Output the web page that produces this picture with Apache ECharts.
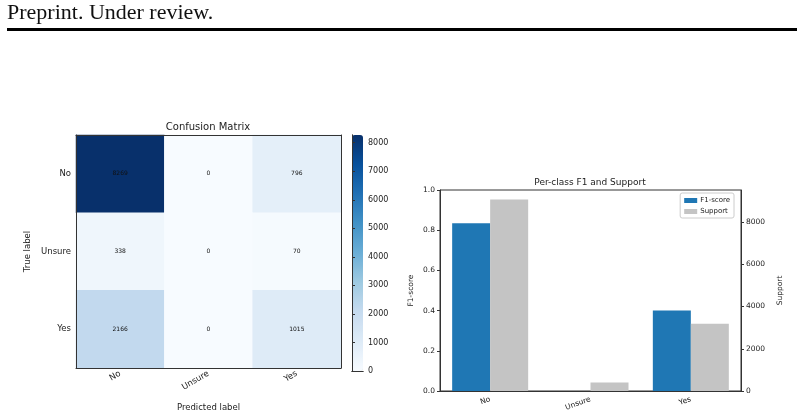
<!DOCTYPE html>
<html>
<head>
<meta charset="utf-8">
<script src="https://cdn.jsdelivr.net/npm/echarts@6/dist/echarts.min.js"></script>
<style>
  html, body { margin: 0; padding: 0; background: #fff; }
  #chart { width: 804px; height: 417px; }
</style>
</head>
<body>
<div id="chart"></div>
<script>
// class names (rows = true label, columns = predicted label)
const classes = ['No', 'Unsure', 'Yes']
const cmNo = [8269, 0, 796]
const cmUnsure = [338, 0, 70]
const cmYes = [2166, 0, 1015]
const f1Scores = [0.834, 0.0, 0.401]
const support = [9065, 408, 3181]

const cmMax = 8269
const supportMax = 9518
const blues = ['#f7fbff', '#deebf7', '#c6dbef', '#9ecae1', '#6baed6', '#4292c6', '#2171b5', '#08519c', '#08306b']
const FONT = 'DejaVu Sans'
const INK = '#222'

const cmRows = [cmNo, cmUnsure, cmYes]
const heatData = []
cmRows.forEach((row, r) => {
  row.forEach((v, c) => {
    heatData.push([c, r, v])
  })
})

const spine = { show: true, lineStyle: { color: '#333', width: 1 } }
const hidden = { show: false }
const plain = (v) => String(v)

const chart = echarts.init(document.getElementById('chart'), null, { renderer: 'canvas' })

const option = {
  animation: false,
  textStyle: { fontFamily: FONT, color: INK },
  graphic: [
    {
      type: 'text', left: 7, top: 2,
      style: { text: 'Preprint. Under review.', font: '22px "Liberation Serif"', fill: '#111' }
    },
    { type: 'rect', shape: { x: 7, y: 28, width: 790, height: 3 }, style: { fill: '#000' } },
    {
      type: 'text', x: 208, y: 127,
      style: { text: 'Confusion Matrix', font: '10px "DejaVu Sans"', fill: INK, align: 'center', verticalAlign: 'middle' }
    },
    {
      type: 'text', x: 590, y: 183,
      style: { text: 'Per-class F1 and Support', font: '9px "DejaVu Sans"', fill: INK, align: 'center', verticalAlign: 'middle' }
    }
  ],
  grid: [
    { left: 76, top: 135, width: 265, height: 236 },
    { left: 352, top: 135, width: 11, height: 236 },
    { left: 440, top: 190, width: 301, height: 201, show: true, borderColor: '#333', borderWidth: 1, backgroundColor: 'transparent' }
  ],
  visualMap: [
    {
      type: 'continuous', seriesIndex: 0, min: 0, max: cmMax,
      left: 352, top: 135, itemWidth: 11, itemHeight: 236, padding: 0,
      calculable: false, inRange: { color: blues }, text: null, showLabel: false
    }
  ],
  xAxis: [
    {
      gridIndex: 0, type: 'category', data: classes, z: 10,
      axisLine: spine, axisTick: { alignWithLabel: true, length: 3, lineStyle: { color: '#333' } },
      axisLabel: { rotate: 30, fontSize: 8.5, color: INK, margin: 5 },
      name: 'Predicted label', nameLocation: 'middle', nameGap: 35,
      nameTextStyle: { fontSize: 8.5, color: INK }
    },
    { gridIndex: 0, type: 'category', data: classes, position: 'top', z: 10, axisLine: spine, axisTick: hidden, axisLabel: hidden },
    { gridIndex: 1, type: 'value', min: 0, max: 1, z: 10, axisLine: spine, axisTick: hidden, axisLabel: hidden, splitLine: hidden },
    { gridIndex: 1, type: 'value', min: 0, max: 1, position: 'top', z: 10, axisLine: spine, axisTick: hidden, axisLabel: hidden, splitLine: hidden },
    {
      gridIndex: 2, type: 'category', data: classes,
      axisLine: spine, axisTick: { alignWithLabel: true, length: 3, lineStyle: { color: '#333' } },
      axisLabel: { rotate: 20, fontSize: 7.5, color: INK, margin: 8 }
    }
  ],
  yAxis: [
    {
      gridIndex: 0, type: 'category', data: classes, inverse: true, z: 10,
      axisLine: spine, axisTick: { alignWithLabel: true, length: 3, lineStyle: { color: '#333' } },
      axisLabel: { fontSize: 8.5, color: INK, margin: 5 },
      name: 'True label', nameLocation: 'middle', nameGap: 44, nameRotate: 90,
      nameTextStyle: { fontSize: 8.5, color: INK }
    },
    { gridIndex: 0, type: 'category', data: classes, inverse: true, position: 'right', z: 10, axisLine: spine, axisTick: hidden, axisLabel: hidden },
    { gridIndex: 1, type: 'value', min: 0, max: cmMax, position: 'left', z: 10, axisLine: spine, axisTick: hidden, axisLabel: hidden, splitLine: hidden },
    {
      gridIndex: 1, type: 'value', min: 0, max: cmMax, interval: 1000, position: 'right', z: 10,
      axisLine: spine, axisTick: { show: true, length: 3, lineStyle: { color: '#333' } },
      axisLabel: { fontSize: 8, color: INK, margin: 5, showMaxLabel: false, formatter: plain },
      splitLine: hidden
    },
    {
      gridIndex: 2, type: 'value', min: 0, max: 1, interval: 0.2, position: 'left',
      axisLine: spine, axisTick: { show: true, length: 3, lineStyle: { color: '#333' } },
      axisLabel: { fontSize: 7.5, color: INK, margin: 5, formatter: (v) => v.toFixed(1) },
      splitLine: hidden,
      name: 'F1-score', nameLocation: 'middle', nameGap: 25, nameRotate: 90,
      nameTextStyle: { fontSize: 7.5, color: INK }
    },
    {
      gridIndex: 2, type: 'value', min: 0, max: supportMax, interval: 2000, position: 'right',
      axisLine: spine, axisTick: { show: true, length: 3, lineStyle: { color: '#333' } },
      axisLabel: { fontSize: 7.5, color: INK, margin: 5, showMaxLabel: false, formatter: plain },
      splitLine: hidden,
      name: 'Support', nameLocation: 'middle', nameGap: 35, nameRotate: 90,
      nameTextStyle: { fontSize: 7.5, color: INK }
    }
  ],
  legend: {
    data: ['F1-score', 'Support'],
    orient: 'vertical', right: 70, top: 193,
    itemWidth: 13, itemHeight: 5, itemGap: 4, icon: 'rect',
    padding: [4, 4, 3, 4], borderColor: '#ccc', borderWidth: 1, borderRadius: 2,
    textStyle: { fontSize: 7, color: INK, padding: [0, 0, 0, -2] }
  },
  series: [
    {
      type: 'heatmap', xAxisIndex: 0, yAxisIndex: 0, data: heatData,
      label: { show: true, fontSize: 6, color: '#111' },
      itemStyle: { borderWidth: 0 }
    },
    {
      name: 'F1-score', type: 'bar', xAxisIndex: 4, yAxisIndex: 4, data: f1Scores,
      barWidth: 38, barGap: '0%', itemStyle: { color: '#1f77b4' }
    },
    {
      name: 'Support', type: 'bar', xAxisIndex: 4, yAxisIndex: 5, data: support,
      barWidth: 38, barGap: '0%', itemStyle: { color: '#c4c4c4' }
    }
  ]
}
chart.setOption(option)
window.addEventListener('resize', () => {
  chart.resize()
})
</script>
</body>
</html>
